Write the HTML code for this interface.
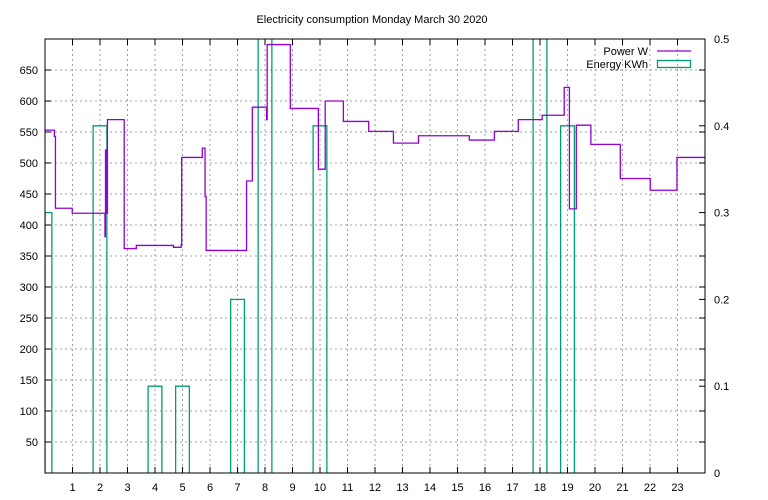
<!DOCTYPE html>
<html><head><meta charset="utf-8"><style>
html,body{margin:0;padding:0;background:#fff}
svg{display:block;font-family:"Liberation Sans","DejaVu Sans",sans-serif;font-size:11px}
</style></head><body>
<svg id="chart" width="768" height="500" viewBox="0 0 768 500" xmlns="http://www.w3.org/2000/svg">
<defs><clipPath id="plotclip"><rect x="45" y="39" width="660" height="434"/></clipPath></defs>
<text x="372" y="23" text-anchor="middle">Electricity consumption Monday March 30 2020</text>
<g id="grid"></g>
<g id="boxes" clip-path="url(#plotclip)"></g>
<path id="power" fill="none" stroke="#9400d3" stroke-width="1.3"/>
<rect x="45" y="39" width="660" height="434" fill="none" stroke="#000" stroke-width="1"/>
<g id="axes"></g>
<g>
<text x="648" y="55" text-anchor="end">Power W</text>
<line x1="657" y1="51" x2="691" y2="51" stroke="#9400d3" stroke-width="1.3"/>
<text x="648" y="68" text-anchor="end">Energy KWh</text>
<rect x="657.5" y="60.5" width="33" height="7" fill="none" stroke="#009e73" stroke-width="1.3"/>
</g>
</svg>
<script>
const powerStartHours=[0,0.34,0.38,0.99,2.18,2.2,2.22,2.27,2.88,3.32,4.67,4.95,4.97,5.72,5.82,5.86,7.33,7.54,8.06,8.08,8.92,9.94,10.19,10.85,11.77,12.67,13.58,15.43,16.34,17.21,18.08,18.88,19.07,19.32,19.85,20.92,22.01,22.98];
const powerWatts=[553,543,427,419,381,521,419,570,362,367,364,368,509,524,446,359,471,590,570,691,588,490,600,567,551,532,544,537,551,570,577,622,426,561,530,475,456,509];
const energyHours=[0,2,4,5,7,8,10,18,19];
const energyKWh=[0.3,0.4,0.1,0.1,0.2,0.6,0.4,0.6,0.4];
const xTicks=[1,2,3,4,5,6,7,8,9,10,11,12,13,14,15,16,17,18,19,20,21,22,23];
const yTicks=[50,100,150,200,250,300,350,400,450,500,550,600,650];
const y2Ticks=[0,0.1,0.2,0.3,0.4,0.5];
const X0=45,X1=705,Y0=473,Y1=39;
const sx=h=>X0+(h-0)/(24-0)*(X1-X0);
const sy=w=>Y0-w/700*(Y0-Y1);
const sy2=e=>Y0-e/0.5*(Y0-Y1);
const NS="http://www.w3.org/2000/svg";
function mk(tag,parent){const e=document.createElementNS(NS,tag);parent.appendChild(e);return e;}
const grid=document.getElementById('grid'),axes=document.getElementById('axes');
xTicks.forEach(t=>{const x=sx(t);
 const l=mk('line',grid);
 
 
 l.setAttribute('x1',x);l.setAttribute('x2',x);l.setAttribute('y1',Y1);l.setAttribute('y2',Y0);
 l.setAttribute('stroke','#a0a0a0');l.setAttribute('stroke-dasharray','2,3');
 const tk=mk('path',axes);
 
 
 tk.setAttribute('d',`M${x},${Y0}v-6M${x},${Y1}v6`);tk.setAttribute('stroke','#000');
 const tx=mk('text',axes);
 
 
 tx.setAttribute('x',x);tx.setAttribute('y',491);tx.setAttribute('text-anchor','middle');tx.textContent=t;});
yTicks.forEach(t=>{const y=sy(t);
 const l=mk('line',grid);
 
 
 l.setAttribute('x1',X0);l.setAttribute('x2',X1);l.setAttribute('y1',y);l.setAttribute('y2',y);
 l.setAttribute('stroke','#a0a0a0');l.setAttribute('stroke-dasharray','2,3');
 const tk=mk('path',axes);
 
 
 tk.setAttribute('d',`M${X0},${y}h6M${X1},${y}h-6`);tk.setAttribute('stroke','#000');
 const tx=mk('text',axes);
 
 
 tx.setAttribute('x',38);tx.setAttribute('y',y+4);tx.setAttribute('text-anchor','end');tx.textContent=t;});
y2Ticks.forEach(t=>{const y=sy2(t);
 const tk=mk('path',axes);
 
 
 tk.setAttribute('d',`M${X1},${y}h-6`);tk.setAttribute('stroke','#000');
 const tx=mk('text',axes);
 
 
 tx.setAttribute('x',714);tx.setAttribute('y',y+4);tx.textContent=t;});
const boxes=document.getElementById('boxes');
energyHours.forEach((h,i)=>{const v=energyKWh[i];if(v<=0)return;
 const l=Math.max(sx(h-0.25),X0),r=Math.min(sx(h+0.25),X1),top=sy2(v);
 const p=mk('path',boxes);
 
 
 p.setAttribute('d',`M${l},${Y0}V${top}H${r}V${Y0}`);
 p.setAttribute('fill','none');p.setAttribute('stroke','#009e73');p.setAttribute('stroke-width','1.3');});
let d='';
powerStartHours.forEach((h,i)=>{const x=sx(h),y=sy(powerWatts[i]);
 d+=(i===0?`M${x},${y}`:`H${x}V${y}`);});
d+=`H${sx(24)}`;
document.getElementById('power').setAttribute('d',d);
</script>
</body></html>
